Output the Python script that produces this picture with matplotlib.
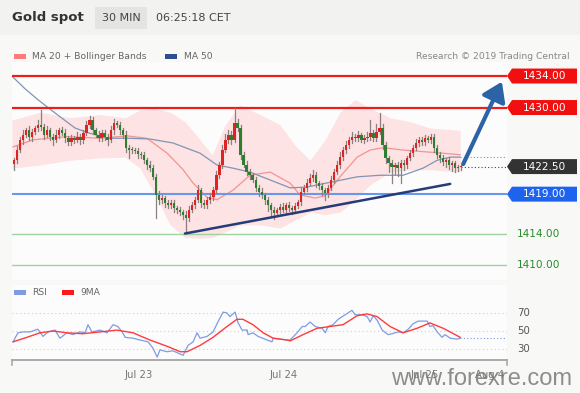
import matplotlib
matplotlib.use("Agg")
import matplotlib.pyplot as plt
import numpy as np
from matplotlib.patches import Rectangle, Polygon, FancyArrowPatch
import matplotlib.transforms as mtransforms

# ---------------- data ----------------
first_open = 1422.8
closes = [
    1423.3, 1424.6, 1425.9, 1426.5, 1427.1, 1426.3, 1426.9, 1427.4, 1427.8, 1427.5,
    1426.5, 1427.1, 1426.3, 1425.9, 1426.5, 1427.1, 1426.8, 1426.1, 1425.6, 1426.1,
    1425.9, 1426.3, 1425.9, 1426.8, 1427.8, 1428.4, 1427.1, 1426.5, 1426.1, 1426.8,
    1426.3, 1425.9, 1427.1, 1428.0, 1427.8, 1427.1, 1426.5, 1424.9, 1424.6, 1424.6,
    1424.5, 1424.1, 1424.0, 1423.3, 1422.7, 1422.3, 1421.2, 1418.9, 1418.3, 1418.5,
    1417.9, 1417.6, 1417.9, 1417.2, 1417.0, 1416.7, 1416.4, 1416.0, 1417.0, 1417.6,
    1418.3, 1419.5, 1417.9, 1417.6, 1418.3, 1418.6, 1419.5, 1421.4, 1422.7, 1424.6,
    1425.9, 1426.5, 1425.9, 1428.0, 1427.4, 1424.0, 1422.7, 1421.8, 1421.4, 1420.8,
    1419.8, 1419.3, 1418.9, 1418.3, 1417.6, 1417.0, 1416.6, 1417.0, 1417.4, 1417.0,
    1417.6, 1417.2, 1417.0, 1417.5, 1418.0, 1419.3, 1419.8, 1420.4, 1421.1, 1421.4,
    1420.4, 1420.0, 1419.5, 1419.1, 1419.8, 1420.8, 1421.8, 1422.7, 1423.7, 1424.6,
    1425.2, 1425.9, 1426.3, 1426.1, 1426.5, 1425.9, 1426.1, 1426.3, 1426.8, 1426.1,
    1426.9, 1427.4, 1425.2, 1423.6, 1423.0, 1422.4, 1422.7, 1422.3, 1423.0, 1422.7,
    1423.6, 1424.2, 1424.9, 1425.5, 1425.9, 1425.6, 1426.1, 1425.9, 1426.3, 1424.9,
    1424.0, 1423.6, 1423.1, 1423.3, 1422.7, 1422.9, 1422.3, 1422.4, 1422.5,
]
upper_wick = [
    0.3, 0.5, 0.4, 0.6, 0.3, 0.5, 0.4, 0.3, 0.6, 1.9,
    0.4, 0.5, 0.3, 0.4, 0.6, 0.3, 0.4, 0.5, 0.3, 0.4,
    0.3, 0.6, 0.4, 0.3, 0.5, 0.5, 0.4, 0.3, 0.5, 0.4,
    0.3, 0.4, 0.5, 0.6, 0.3, 0.4, 0.3, 0.5, 0.3, 0.4,
    0.3, 0.4, 0.3, 0.4, 0.3, 0.5, 0.4, 0.3, 0.5, 0.4,
    0.3, 0.4, 0.3, 0.4, 0.3, 0.4, 0.3, 0.4, 0.5, 0.4,
    0.4, 0.6, 0.3, 0.4, 0.3, 0.5, 0.4, 0.5, 0.4, 0.6,
    0.8, 0.7, 0.5, 2.0, 0.5, 0.4, 0.3, 0.5, 0.4, 0.3,
    0.4, 0.3, 0.5, 0.3, 0.4, 0.3, 0.4, 0.3, 0.4, 0.5,
    0.3, 0.4, 0.3, 0.4, 0.3, 0.5, 0.4, 0.5, 0.4, 0.7,
    0.4, 0.3, 0.4, 0.3, 0.4, 0.5, 0.4, 0.5, 0.6, 0.4,
    0.5, 0.4, 0.6, 0.4, 0.5, 0.3, 0.4, 0.6, 1.6, 0.4,
    1.0, 1.9, 0.5, 0.4, 0.3, 0.4, 0.3, 0.4, 0.3, 0.4,
    0.3, 0.4, 0.3, 0.5, 0.4, 0.3, 0.4, 0.3, 0.4, 0.3,
    0.4, 0.3, 0.4, 0.3, 0.4, 0.3, 0.3, 0.3, 0.2,
]
lower_wick = [
    0.7, 0.4, 0.3, 0.5, 0.3, 0.4, 0.5, 0.3, 0.4, 0.3,
    0.5, 0.3, 0.4, 0.6, 0.3, 0.4, 0.3, 0.5, 0.4, 0.3,
    0.4, 0.3, 0.5, 0.4, 0.3, 0.4, 0.5, 0.3, 0.4, 0.3,
    0.4, 0.6, 0.3, 0.4, 0.3, 0.5, 0.4, 0.6, 1.0, 0.4,
    0.3, 0.5, 0.4, 0.3, 0.5, 0.4, 0.3, 2.9, 0.5, 0.4,
    0.5, 0.4, 0.3, 0.5, 0.4, 0.3, 0.5, 1.9, 0.4, 0.3,
    0.4, 0.3, 0.5, 0.4, 0.3, 0.4, 0.3, 0.4, 0.3, 0.4,
    0.3, 0.4, 0.5, 0.3, 0.4, 0.5, 0.3, 0.4, 0.5, 0.3,
    0.4, 0.5, 0.4, 0.5, 0.8, 0.8, 0.7, 0.4, 0.5, 0.3,
    0.4, 0.3, 0.5, 0.4, 0.3, 0.4, 0.3, 0.4, 0.3, 0.4,
    0.5, 0.4, 0.6, 0.8, 0.4, 0.3, 0.4, 0.3, 0.4, 0.3,
    0.4, 0.3, 0.4, 0.3, 0.4, 0.3, 0.4, 0.3, 0.4, 0.3,
    0.4, 0.3, 0.5, 0.6, 1.2, 2.0, 0.8, 1.0, 1.9, 0.6,
    0.4, 0.3, 0.4, 0.3, 0.4, 0.3, 0.4, 0.3, 0.4, 0.5,
    0.4, 0.5, 0.4, 0.6, 0.5, 0.8, 0.5, 0.4, 0.3,
]

# indicator samples (candle index, price)
ma50_idx = [-0.7, 3.6, 7.9, 13.6, 20.2, 24.5, 31.1, 37.7, 45.0, 52.6, 61.6, 67.2, 72.5,
            78.1, 84.8, 91.4, 97.0, 104.6, 113.6, 121.2, 128.8, 135.4, 140.1, 144.4, 147.7]
ma50_val = [1434.0, 1432.4, 1431.0, 1429.3, 1427.4, 1426.8, 1426.1, 1426.1, 1426.0, 1425.5,
            1424.2, 1422.7, 1422.3, 1421.8, 1420.8, 1419.8, 1419.9, 1420.5, 1421.2, 1421.4,
            1421.4, 1422.3, 1423.3, 1423.7, 1423.7]
ma20_idx = [-0.3, 6.3, 17.5, 28.5, 37.4, 44.0, 50.7, 56.0, 59.3, 63.9, 67.2, 72.5, 78.1,
            84.8, 91.4, 94.7, 99.7, 103.0, 107.9, 113.6, 117.9, 122.2, 128.8, 135.4, 142.1, 147.7]
ma20_val = [1425.0, 1425.9, 1426.3, 1426.1, 1426.4, 1426.1, 1424.2, 1422.1, 1420.4, 1418.6,
            1418.3, 1419.5, 1421.4, 1421.8, 1420.4, 1418.9, 1418.5, 1418.8, 1421.2, 1423.7,
            1424.6, 1424.9, 1424.6, 1424.4, 1424.2, 1424.0]
band_idx = [-0.7, 8.6, 18.5, 28.5, 36.8, 41.7, 46.7, 51.7, 56.6, 61.6, 65.6, 69.9, 74.8,
            81.5, 88.1, 93.0, 98.0, 103.0, 107.9, 112.9, 117.9, 124.5, 131.1, 137.7, 147.7]
band_upper = [1428.4, 1429.4, 1428.7, 1429.1, 1428.7, 1429.7, 1429.9, 1429.4, 1428.2, 1425.9,
              1424.0, 1427.8, 1430.3, 1429.1, 1427.8, 1425.2, 1423.3, 1425.9, 1429.4, 1431.0,
              1429.9, 1428.7, 1428.2, 1427.4, 1427.1]
band_lower = [1422.3, 1422.7, 1423.3, 1423.6, 1423.7, 1422.3, 1418.9, 1415.1, 1413.5, 1413.4,
              1413.5, 1414.2, 1415.1, 1415.1, 1414.7, 1415.7, 1416.7, 1416.4, 1416.7, 1418.3,
              1420.2, 1421.8, 1422.1, 1422.1, 1421.8]

trend_idx = [56.6, 144.4]
trend_val = [1414.0, 1420.3]
arrow_tip_idx = 161.9
arrow_target = 1433.6

# key levels
resist_levels = [1434.00, 1430.00]
last_price = 1422.50
support_blue = 1419.00
support_green = [1414.00, 1410.00]

# RSI samples
rsi_idx = [-0.3, 1.3, 3.0, 5.3, 7.9, 9.6, 11.3, 13.6, 15.2, 17.5, 19.5, 21.9, 23.5, 24.5,
           25.8, 28.5, 30.8, 32.8, 34.4, 35.8, 36.8, 39.4, 41.7, 44.4, 46.0, 47.4, 48.3,
           50.7, 52.6, 56.0, 57.6, 59.3, 60.6, 61.6, 63.9, 65.9, 67.5, 69.2, 70.5, 71.5,
           73.2, 74.2, 75.5, 77.2, 77.5, 79.1, 80.8, 83.8, 85.4, 85.8, 90.4, 91.4, 93.7,
           95.4, 96.4, 98.0, 99.7, 102.0, 103.0, 104.0, 105.6, 107.3, 109.6, 111.9, 112.9,
           115.2, 116.9, 117.9, 118.9, 120.2, 121.9, 123.8, 125.2, 127.2, 128.8, 130.5,
           132.1, 133.8, 136.8, 137.7, 138.7, 140.1, 141.7, 142.7, 144.4, 146.7, 147.7]
rsi_val = [38, 48, 49, 49, 52, 44, 49, 51, 42, 48, 46, 49, 48, 57,
           49, 51, 48, 57, 55, 49, 43, 42, 40, 38, 31, 21, 29,
           27, 28, 23, 34, 38, 48, 42, 44, 49, 60, 71, 70, 66,
           71, 59, 51, 51, 46, 48, 44, 40, 38, 42, 40, 40, 48,
           55, 55, 60, 55, 53, 48, 55, 57, 63, 68, 73, 68,
           68, 66, 60, 67, 62, 51, 46, 47, 49, 48, 52,
           58, 61, 61, 55, 56, 49, 43, 46, 42, 41, 42]
rsi_ma_idx = [-0.3, 4.3, 8.6, 12.9, 17.5, 22.8, 28.5, 34.1, 39.4, 45.0, 50.7, 55.0, 57.3,
              61.6, 65.9, 70.5, 73.8, 75.8, 79.1, 82.5, 85.8, 90.4, 91.4, 95.7, 100.3,
              104.6, 108.9, 113.6, 116.9, 120.2, 124.5, 128.8, 133.4, 137.7, 142.1, 147.7]
rsi_ma_val = [38, 43, 48, 50, 48, 47, 49, 51, 48, 40, 33, 27, 27,
              34, 43, 55, 63, 63, 57, 48, 42, 40, 39, 46, 53,
              55, 57, 67, 69, 66, 55, 48, 53, 59, 53, 43]
rsi_levels = [70, 50, 30]

date_labels = ["Jul 23", "Jul 24", "Jul 25", "Aug 4"]
date_idx = [41.1, 89.1, 136.1, 157.6]

# ---------------- figure ----------------
W, H = 580, 393
fig = plt.figure(figsize=(W / 100, H / 100), dpi=100)
fig.patch.set_facecolor("#f8f8f7")

def fx(px):
    return px / W

def fy(py):
    return 1 - py / H

# header band
fig.patches.append(Rectangle((0, fy(35)), 1, 1 - fy(35), transform=fig.transFigure,
                             facecolor="#f2f2f1", edgecolor="none", zorder=0))
fig.patches.append(Rectangle((fx(95), fy(29)), fx(52), fy(7) - fy(29), transform=fig.transFigure,
                             facecolor="#e4e4e3", edgecolor="none", zorder=1))
fig.text(fx(12), fy(18), "Gold spot", fontsize=9.5, fontweight="bold", color="#333333", va="center")
fig.text(fx(121), fy(18), "30 MIN", fontsize=8, color="#444444", va="center", ha="center")
fig.text(fx(156), fy(18), "06:25:18 CET", fontsize=8, color="#444444", va="center")

# legend
fig.patches.append(Rectangle((fx(14), fy(59)), fx(12), fy(54) - fy(59), transform=fig.transFigure,
                             facecolor="#ff7b7b", edgecolor="none"))
fig.text(fx(32), fy(56.5), "MA 20 + Bollinger Bands", fontsize=6.6, color="#666666", va="center")
fig.patches.append(Rectangle((fx(165), fy(59)), fx(12), fy(54) - fy(59), transform=fig.transFigure,
                             facecolor="#2d4f8f", edgecolor="none"))
fig.text(fx(184), fy(56.5), "MA 50", fontsize=6.6, color="#666666", va="center")
fig.text(fx(570), fy(56.5), "Research \u00a9 2019 Trading Central", fontsize=6.6,
         color="#888888", va="center", ha="right")

# main price axes
ax = fig.add_axes([fx(12), fy(280), fx(495), fy(62) - fy(280)])
ax.set_facecolor("#fcfcfc")
n = len(closes)
opens = [first_open] + closes[:-1]
xlim = (-0.66, 163.2)
ax.set_xlim(*xlim)
ax.set_ylim(1408.1, 1435.78)
for s in ax.spines.values():
    s.set_visible(False)
ax.set_xticks([])
ax.set_yticks([])

ax.fill_between(band_idx, band_lower, band_upper, color="#fde3e3", lw=0, zorder=1)
ax.plot(ma20_idx, ma20_val, color="#f49393", lw=0.9, zorder=2)
ax.plot(ma50_idx, ma50_val, color="#7f95b5", lw=0.9, zorder=2)
ax.plot([ma50_idx[-1], xlim[1]], [ma50_val[-1], ma50_val[-1]], color="#8096b8", lw=0.8, ls=(0, (1, 2)), zorder=2)

# levels
for lv in resist_levels:
    ax.axhline(lv, color="#ee1d1d", lw=1.6, zorder=3)
ax.axhline(support_blue, color="#6a97ee", lw=1.5, zorder=3)
for lv in support_green:
    ax.axhline(lv, color="#9fd39f", lw=1.0, zorder=3)
ax.plot([n - 1, xlim[1]], [last_price, last_price], color="#444444", lw=0.8, ls=(0, (1, 2)), zorder=3)

# candles
for i in range(n):
    o, c = opens[i], closes[i]
    hi = max(o, c) + upper_wick[i]
    lo = min(o, c) - lower_wick[i]
    col = "#e02222" if c >= o else "#2f7d2f"
    ax.plot([i, i], [lo, hi], color="#8c7f7f", lw=0.9, zorder=4)
    body = max(abs(c - o), 0.15)
    ax.add_patch(Rectangle((i - 0.38, min(o, c)), 0.76, body, facecolor=col, edgecolor="none", zorder=5))

# trend line and arrow
ax.plot(trend_idx, trend_val, color="#243c78", lw=1.8, zorder=6, solid_capstyle="round")
arr = FancyArrowPatch((n - 0.7, closes[-1]), (arrow_tip_idx, arrow_target),
                      arrowstyle="-|>,head_length=7.5,head_width=5", mutation_scale=1.5,
                      color="#2b63a6", lw=3.0, zorder=7, clip_on=False)
ax.add_patch(arr)

# right-side tags
trans = mtransforms.blended_transform_factory(ax.transAxes, ax.transData)
def tag(value, color, txt_color="white"):
    h = 0.95
    pts = [(1.0, value), (1.0101, value + h), (1.1414, value + h), (1.1414, value - h), (1.0101, value - h)]
    ax.add_patch(Polygon(pts, closed=True, transform=trans, facecolor=color, edgecolor="none", clip_on=False, zorder=8))
    ax.text(1.0758, value, f"{value:.2f}", transform=trans, color=txt_color, fontsize=7.6,
            ha="center", va="center", clip_on=False, zorder=9)

for lv in resist_levels:
    tag(lv, "#f20f0f")
tag(last_price, "#333333")
tag(support_blue, "#1e63ee")
for lv in support_green:
    ax.text(1.0202, lv, f"{lv:.2f}", transform=trans, color="#2a8c2a", fontsize=7.6,
            ha="left", va="center", clip_on=False)

# RSI axes
ax2 = fig.add_axes([fx(12), fy(360), fx(495), fy(285) - fy(360)])
ax2.set_facecolor("#fcfcfc")
ax2.set_xlim(*xlim)
ax2.set_ylim(17.8, 101.1)
for s in ["top", "left", "right"]:
    ax2.spines[s].set_visible(False)
ax2.spines["bottom"].set_color("#aaaaaa")
ax2.spines["bottom"].set_linewidth(1.4)
ax2.set_yticks([])
ax2.set_xticks(date_idx)
ax2.set_xticklabels(date_labels, fontsize=7.3, color="#777777")
ax2.tick_params(axis="x", length=0, pad=7)
for lv in rsi_levels:
    ax2.axhline(lv, color="#cfcfcf", lw=0.8, ls=(0, (1, 2.5)))
    ax2.text(1.0202, lv, str(lv), transform=mtransforms.blended_transform_factory(ax2.transAxes, ax2.transData),
             fontsize=7.3, color="#555555", ha="left", va="center", clip_on=False)
for xe in (0.0, 1.0):
    ax2.plot([xe, xe], [0, -0.06], transform=ax2.transAxes, color="#aaaaaa", lw=1.2, clip_on=False)
ax2.plot(rsi_idx, rsi_val, color="#7f9be6", lw=0.9, zorder=3)
ax2.plot(rsi_ma_idx, rsi_ma_val, color="#ff3b3b", lw=1.0, zorder=4)
ax2.plot([rsi_idx[-1], xlim[1]], [rsi_val[-1], rsi_val[-1]], color="#7f9be6", lw=0.8, ls=(0, (1, 2)), zorder=3)

# RSI legend
fig.patches.append(Rectangle((fx(14), fy(295)), fx(12), fy(290) - fy(295), transform=fig.transFigure,
                             facecolor="#7f9be6", edgecolor="none"))
fig.text(fx(32), fy(292.5), "RSI", fontsize=6.6, color="#666666", va="center")
fig.patches.append(Rectangle((fx(62), fy(295)), fx(12), fy(290) - fy(295), transform=fig.transFigure,
                             facecolor="#ff1a1a", edgecolor="none"))
fig.text(fx(80), fy(292.5), "9MA", fontsize=6.6, color="#666666", va="center")

# watermark (overlaps the date labels, as in the reference)
fig.text(fx(572), fy(379), "www.forexre.com", fontsize=17, color="#7a7a7a", alpha=0.85,
         ha="right", va="center", family="Liberation Sans")

fig.savefig("out.png", dpi=100, facecolor=fig.get_facecolor())
